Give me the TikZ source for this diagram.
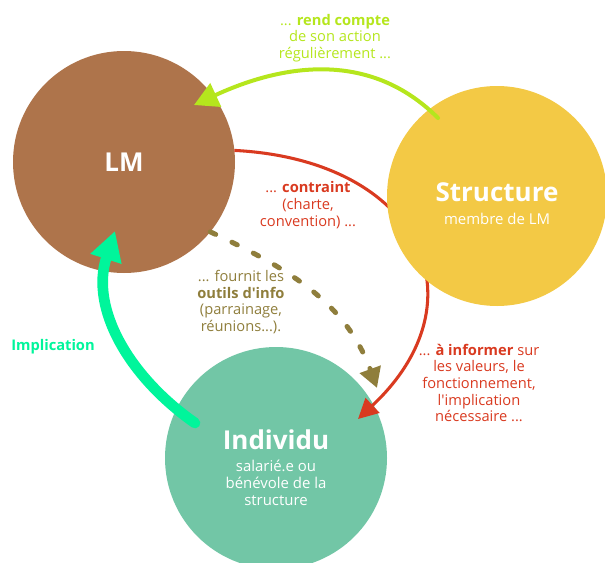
\documentclass[tikz,border=0pt]{standalone}
\usepackage{fontspec}
\newfontfamily\police{Open Sans}
\usetikzlibrary{arrows.meta}

\definecolor{brunLM}{HTML}{AE744B}
\definecolor{jauneStruct}{HTML}{F3C945}
\definecolor{vertIndiv}{HTML}{72C6A6}
\definecolor{vertCompte}{HTML}{B5E61D}
\definecolor{rougeInfo}{HTML}{D93A20}
\definecolor{oliveOutils}{HTML}{8F7E3C}
\definecolor{vertImpl}{HTML}{00F59B}

\begin{document}
\begin{tikzpicture}[x=0.75pt, y=0.75pt,
		bulle/.style={circle, minimum size=166.5pt, inner sep=0pt, outer sep=0pt},
		titre/.style={text=white, font=\police\fontsize{19.5}{24}\selectfont\bfseries},
		soustitre/.style={text=white, align=center, font=\police\fontsize{11.2}{12.5}\selectfont},
		etiquette/.style={align=center, font=\police\fontsize{11}{12.5}\selectfont}]
		\useasboundingbox (0,0) rectangle (605,562);

		% cercles
		\node[bulle, fill=brunLM] (LM) at (124,400) {};
		\node[bulle, fill=vertIndiv] (individu) at (276,104) {};

		\coordinate (finInfo) at ([shift={(82,39)}]individu.center);
		\draw[rougeInfo, line width=2.3pt, -{Triangle[length=15pt,width=15pt]}] (LM.6) .. controls (420,402) and (485,262) .. (finInfo);

		\node[bulle, minimum size=165pt, fill=jauneStruct] (structure) at (497,366) {};

		% fleches
		\coordinate (debutCompte) at ([shift={(-59,78)}]structure.center);
		\coordinate (finCompte) at ([shift={(70,57)}]LM.center);
		\draw[vertCompte, line width=3pt, line cap=round, -{Triangle[length=18pt,width=19pt]}] (debutCompte) .. controls (371,511) and (285,499) .. (finCompte);

		\coordinate (finOutils) at ([shift={(101,70)}]individu.center);
		\draw[oliveOutils, line width=3.75pt, line cap=round, dash pattern=on 4.5pt off 13.5pt, -{Triangle[length=15pt,width=16pt]}] (LM.-39) to[out=-25, in=110] (finOutils);

		\coordinate (debutImpl) at ([shift={(-81,35)}]individu.center);
		\coordinate (finImpl) at ([shift={(-9,-69)}]LM.center);
		\draw[vertImpl, line width=8pt, line cap=round, -{Triangle[length=22pt,width=23pt]}] (debutImpl) to[out=145, in=252] (finImpl);

		% textes
		\node[titre] (nomLM) at (LM) {LM};
		\node[titre] (nomStructure) at (497,370) {Structure};
		\node[soustitre] (detailStructure) at (497,343) {membre de LM};
		\node[titre] (nomIndividu) at (276,122) {Individu};
		\node[soustitre] (detailIndividu) at (276,79) {salarié.e ou\\bénévole de la\\structure};

		\node[etiquette, text=vertCompte] (compte) at (335,524) {... \textbf{rend compte}\\de son action\\régulièrement ...};
		\node[etiquette, text=rougeInfo] (contrainte) at (308,357) {... \textbf{contraint}\\(charte,\\convention) ...};
		\node[etiquette, text=oliveOutils] (outils) at (241,260) {... fournit les\\\textbf{outils d'info}\\(parrainage,\\réunions...).};
		\node[etiquette, text=rougeInfo] (informer) at (479,179) {... \textbf{à informer} sur\\les valeurs, le\\fonctionnement,\\l'implication\\nécessaire ...};
		\node[etiquette, text=vertImpl] (implication) at (53,215) {\textbf{Implication}};
	\end{tikzpicture}
\end{document}
